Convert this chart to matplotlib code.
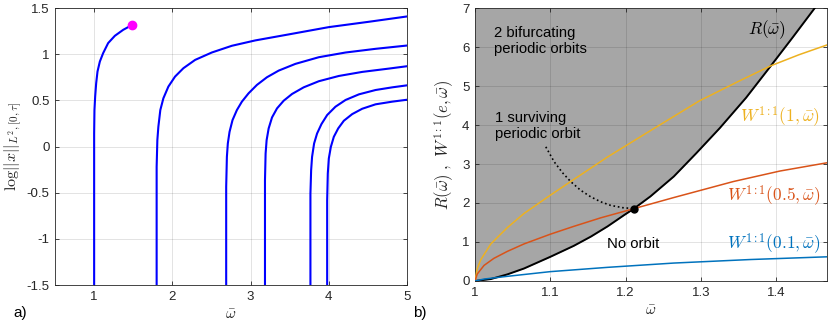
import matplotlib.pyplot as plt
import matplotlib as mpl

mpl.rcParams['font.family'] = 'Liberation Sans'
mpl.rcParams['mathtext.fontset'] = 'cm'
mpl.rcParams['axes.unicode_minus'] = False

# ---- panel a): branches of log||x|| vs omega-bar (read from picture)
branch1_w = [1.0, 1.0, 1.004, 1.013, 1.026, 1.043, 1.073, 1.115, 1.179, 1.265, 1.372, 1.483]
branch1_y = [-1.5, 0.14, 0.395, 0.54, 0.685, 0.812, 0.92, 1.011, 1.12, 1.199, 1.264, 1.315]
branch2_w = [1.799, 1.799, 1.808, 1.821, 1.846, 1.885, 1.949, 2.034, 2.141, 2.291,
             2.504, 2.761, 3.06, 3.487, 4.0, 4.513, 5.004]
branch2_y = [-1.5, -0.221, 0.069, 0.214, 0.395, 0.522, 0.649, 0.757, 0.848, 0.938,
             1.018, 1.091, 1.149, 1.214, 1.293, 1.351, 1.409]
branch3_w = [2.688, 2.688, 2.697, 2.709, 2.731, 2.769, 2.825, 2.889, 2.974, 3.081,
             3.209, 3.359, 3.573, 3.872, 4.214, 4.598, 5.004]
branch3_y = [-1.5, -0.438, -0.112, 0.033, 0.159, 0.286, 0.395, 0.486, 0.576, 0.667,
             0.75, 0.822, 0.895, 0.967, 1.018, 1.058, 1.094]
branch4_w = [3.184, 3.184, 3.192, 3.205, 3.231, 3.274, 3.338, 3.423, 3.53, 3.679,
             3.872, 4.128, 4.427, 4.769, 5.004]
branch4_y = [-1.5, -0.366, -0.076, 0.069, 0.196, 0.315, 0.413, 0.496, 0.569, 0.641,
             0.707, 0.764, 0.808, 0.844, 0.87]
branch5_w = [3.765, 3.765, 3.774, 3.786, 3.812, 3.85, 3.906, 3.979, 4.085, 4.214,
             4.385, 4.598, 4.812, 5.004]
branch5_y = [-1.5, -0.511, -0.257, -0.112, 0.033, 0.141, 0.243, 0.341, 0.431, 0.504,
             0.565, 0.612, 0.641, 0.663]
branch6_w = [3.979, 3.979, 3.987, 4.0, 4.026, 4.064, 4.12, 4.192, 4.299, 4.427,
             4.598, 4.812, 5.004]
branch6_y = [-1.5, -0.583, -0.293, -0.13, -0.004, 0.105, 0.196, 0.279, 0.351, 0.409,
             0.457, 0.486, 0.507]
end_point = (1.483, 1.315)

# ---- panel b): R(w) and W^{1:1}(e, w) curves
R_w = [1.0, 1.021, 1.043, 1.065, 1.1, 1.131, 1.154, 1.176, 1.198, 1.211, 1.233,
       1.264, 1.294, 1.325, 1.36, 1.393, 1.422, 1.452]
R_y = [0.0, 0.05, 0.17, 0.32, 0.62, 0.9, 1.14, 1.4, 1.69, 1.855, 2.17,
       2.68, 3.28, 3.92, 4.7, 5.52, 6.25, 7.02]
W1_w = [1.0, 1.003, 1.0075, 1.021, 1.043, 1.065, 1.1, 1.127, 1.176, 1.224,
        1.298, 1.35, 1.393, 1.43, 1.467]
W1_y = [0.0, 0.32, 0.54, 0.95, 1.37, 1.73, 2.2, 2.55, 3.18, 3.75,
        4.62, 5.12, 5.52, 5.8, 6.05]
W05_w = [1.0, 1.003, 1.012, 1.025, 1.043, 1.065, 1.1, 1.131, 1.167, 1.211,
         1.264, 1.343, 1.405, 1.467]
W05_y = [0.0, 0.18, 0.4, 0.58, 0.76, 0.95, 1.2, 1.4, 1.62, 1.855,
         2.14, 2.55, 2.82, 3.03]
W01_w = [1.0, 1.012, 1.043, 1.1, 1.176, 1.264, 1.365, 1.467]
W01_y = [0.0, 0.05, 0.12, 0.24, 0.35, 0.46, 0.55, 0.62]
arc_w = [1.094, 1.105, 1.116, 1.127, 1.14, 1.1535, 1.167, 1.18, 1.196, 1.211]
arc_y = [3.44, 3.06, 2.78, 2.55, 2.33, 2.16, 2.03, 1.94, 1.88, 1.855]
dot = (1.211, 1.855)

AXC = '#262626'
GRID = dict(color='k', alpha=0.13, linewidth=0.6)
TICK_FS = 9.5

fig = plt.figure(figsize=(8.3, 3.28), dpi=100)
ax1 = fig.add_axes([0.0663, 0.131, 0.4241, 0.8446])
ax2 = fig.add_axes([0.5723, 0.1433, 0.4237, 0.8323])

for ax in (ax1, ax2):
    ax.tick_params(direction='in', top=True, right=True, labelsize=TICK_FS,
                   colors=AXC, length=3, width=0.6, pad=4)
    for s in ax.spines.values():
        s.set_color(AXC)
        s.set_linewidth(0.6)
    ax.grid(True, **GRID)

# panel a
for w, y in [(branch1_w, branch1_y), (branch2_w, branch2_y), (branch3_w, branch3_y),
             (branch4_w, branch4_y), (branch5_w, branch5_y), (branch6_w, branch6_y)]:
    ax1.plot(w, y, color='#0000ff', lw=1.5, solid_joinstyle='round')
ax1.plot(*end_point, 'o', color='#ff00ff', markersize=6)
ax1.set_xlim(0.5, 5)
ax1.set_ylim(-1.5, 1.5)
ax1.set_xticks([1, 2, 3, 4, 5])
ax1.set_yticks([-1.5, -1, -0.5, 0, 0.5, 1, 1.5])
ax1.set_yticklabels(['-1.5', '-1', '-0.5', '0', '0.5', '1', '1.5'])
ax1.set_xlabel(r'$\bar{\omega}$', fontsize=11, color=AXC, labelpad=4)
ax1.set_ylabel(r'$\log||x||_{L^2,[0,\tau]}$', fontsize=11.5, color=AXC, labelpad=2)
fig.text(0.016, 0.035, 'a)', fontsize=11)

# panel b
ax2.fill_between(R_w + [1.467], R_y + [7.0], 7, color='#a6a6a6', lw=0, zorder=0.8,
                 where=[True] * len(R_w) + [False])
ax2.plot(R_w, R_y, color='k', lw=1.4, zorder=3, solid_joinstyle='round')
ax2.plot(W1_w, W1_y, color='#EDB120', lw=1.1, zorder=3)
ax2.plot(W05_w, W05_y, color='#D95319', lw=1.1, zorder=3)
ax2.plot(W01_w, W01_y, color='#0072BD', lw=1.1, zorder=3)
ax2.plot(arc_w, arc_y, ':', color='k', lw=1.2, zorder=3)
ax2.plot(*dot, 'o', color='k', markersize=5, zorder=4)

ax2.text(1.025, 6.15, '2 bifurcating\nperiodic orbits', fontsize=10.7, va='center',
         linespacing=1.2)
ax2.text(1.026, 3.97, '1 surviving\nperiodic orbit', fontsize=10.7, va='center',
         linespacing=1.2)
ax2.text(1.21, 0.94, 'No orbit', fontsize=10.7, ha='center', va='center')
ax2.text(1.413, 6.45, r'$R(\bar{\omega})$', fontsize=12.5, ha='right', va='center')
ax2.text(1.458, 4.21, r'$W^{1:1}(1,\bar{\omega})$', fontsize=12.4, ha='right',
         va='center', color='#EDB120')
ax2.text(1.458, 2.2, r'$W^{1:1}(0.5,\bar{\omega})$', fontsize=12.4, ha='right',
         va='center', color='#D95319')
ax2.text(1.458, 0.97, r'$W^{1:1}(0.1,\bar{\omega})$', fontsize=12.4, ha='right',
         va='center', color='#0072BD')

ax2.set_xlim(1, 1.467)
ax2.set_ylim(0, 7)
ax2.set_xticks([1, 1.1, 1.2, 1.3, 1.4])
ax2.set_xticklabels(['1', '1.1', '1.2', '1.3', '1.4'])
ax2.set_xlabel(r'$\bar{\omega}$', fontsize=11, color=AXC, labelpad=4)
ax2.set_ylabel(r'$R(\bar{\omega})\ ,\ W^{1:1}(e,\bar{\omega})$', fontsize=12,
               color=AXC, labelpad=4)
fig.text(0.498, 0.035, 'b)', fontsize=11)

fig.savefig('out.png', dpi=100)
